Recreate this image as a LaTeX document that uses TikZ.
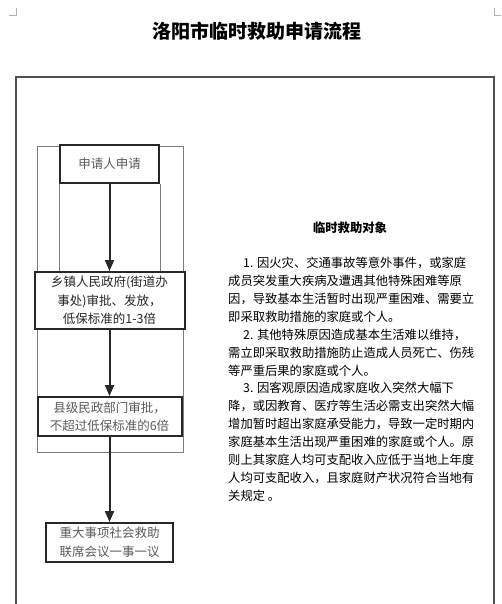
\documentclass[tikz,border=0pt]{standalone}
\usepackage{fontspec}
\setmainfont{Noto Sans CJK SC}
\usetikzlibrary{arrows.meta, positioning, calc, backgrounds}
\definecolor{frameGray}{RGB}{80, 80, 80}
\definecolor{boxDark}{RGB}{40, 40, 40}
\definecolor{textGray}{RGB}{90, 90, 90}
\definecolor{lineGray}{RGB}{125, 125, 125}

\begin{document}
\begin{tikzpicture}[
    x=1pt, y=1pt,
    flowbox/.style={
        rectangle,
        draw=boxDark,
        fill=white,
        line width=2pt,
        inner sep=0pt,
        align=center,
        font=\fontsize{12.5}{18.5}\selectfont,
        text=textGray
    },
    arrow/.style={
        -{Triangle[length=11pt, width=9pt]},
        line width=2pt,
        draw=boxDark
    },
    thinline/.style={
        draw=lineGray,
        line width=0.8pt
    },
    cropmark/.style={
        draw=lineGray!60,
        line width=0.6pt
    }
]
\useasboundingbox (0,0) rectangle (501,-604);

% Title
\node[font=\fontsize{19}{22}\selectfont\bfseries] (title) at (257,-31) {洛阳市临时救助申请流程};

% Page marks and frame
\draw[cropmark] (9,-15) -- (16,-15) -- (16,-8);
\draw[cropmark] (494,-8) -- (494,-15) -- (501,-15);
\draw[frameGray, line width=1.2pt] (16,-604) -- (16,-77) -- (494,-77) -- (494,-604);

% Flow nodes
\node[flowbox, minimum width=99pt, minimum height=38pt] (apply) at (109.5,-164) {申请人申请};
\node[flowbox, minimum width=150pt, minimum height=57pt, text=black!85, below=87pt of apply] (town) {乡镇人民政府(街道办\\事处)审批、发放，\\低保标准的1-3倍};
\node[flowbox, minimum width=144pt, minimum height=39pt, below=66pt of town] (county) {县级民政部门审批，\\不超过低保标准的6倍};
\node[flowbox, minimum width=127pt, minimum height=39pt, below=85pt of county] (meeting) {重大事项社会救助\\联席会议一事一议};

% Grid lines behind the boxes
\begin{scope}[on background layer]
\coordinate (gridNW) at (37,-146);
\coordinate (gridSE) at (183,-452);
\draw[thinline] (gridNW) rectangle (gridSE);
\draw[thinline] (apply.south west) -- (apply.south west |- town.north);
\draw[thinline] (apply.south east) -- (apply.south east |- town.north);
\end{scope}

% Arrows
\draw[arrow] (apply.south) -- (apply.south |- town.north);
\draw[arrow] (apply.south |- town.south) -- (apply.south |- county.north);
\draw[arrow] (apply.south |- county.south) -- (apply.south |- meeting.north);

% Assistance targets
\node[font=\fontsize{12.3}{15}\selectfont\bfseries] (objTitle) at (350,-228) {临时救助对象};
\node[anchor=north west, align=left, inner sep=0pt, font=\fontsize{12.3}{17.9}\selectfont] (objText) at (228,-257) {%
\hspace{15pt}1. 因火灾、交通事故等意外事件，或家庭\\
成员突发重大疾病及遭遇其他特殊困难等原\\
因，导致基本生活暂时出现严重困难、需要立\\
即采取救助措施的家庭或个人。\\
\hspace{15pt}2. 其他特殊原因造成基本生活难以维持，\\
需立即采取救助措施防止造成人员死亡、伤残\\
等严重后果的家庭或个人。\\
\hspace{15pt}3. 因客观原因造成家庭收入突然大幅下\\
降，或因教育、医疗等生活必需支出突然大幅\\
增加暂时超出家庭承受能力，导致一定时期内\\
家庭基本生活出现严重困难的家庭或个人。原\\
则上其家庭人均可支配收入应低于当地上年度\\
人均可支配收入，且家庭财产状况符合当地有\\
关规定 。};

\end{tikzpicture}
\end{document}
